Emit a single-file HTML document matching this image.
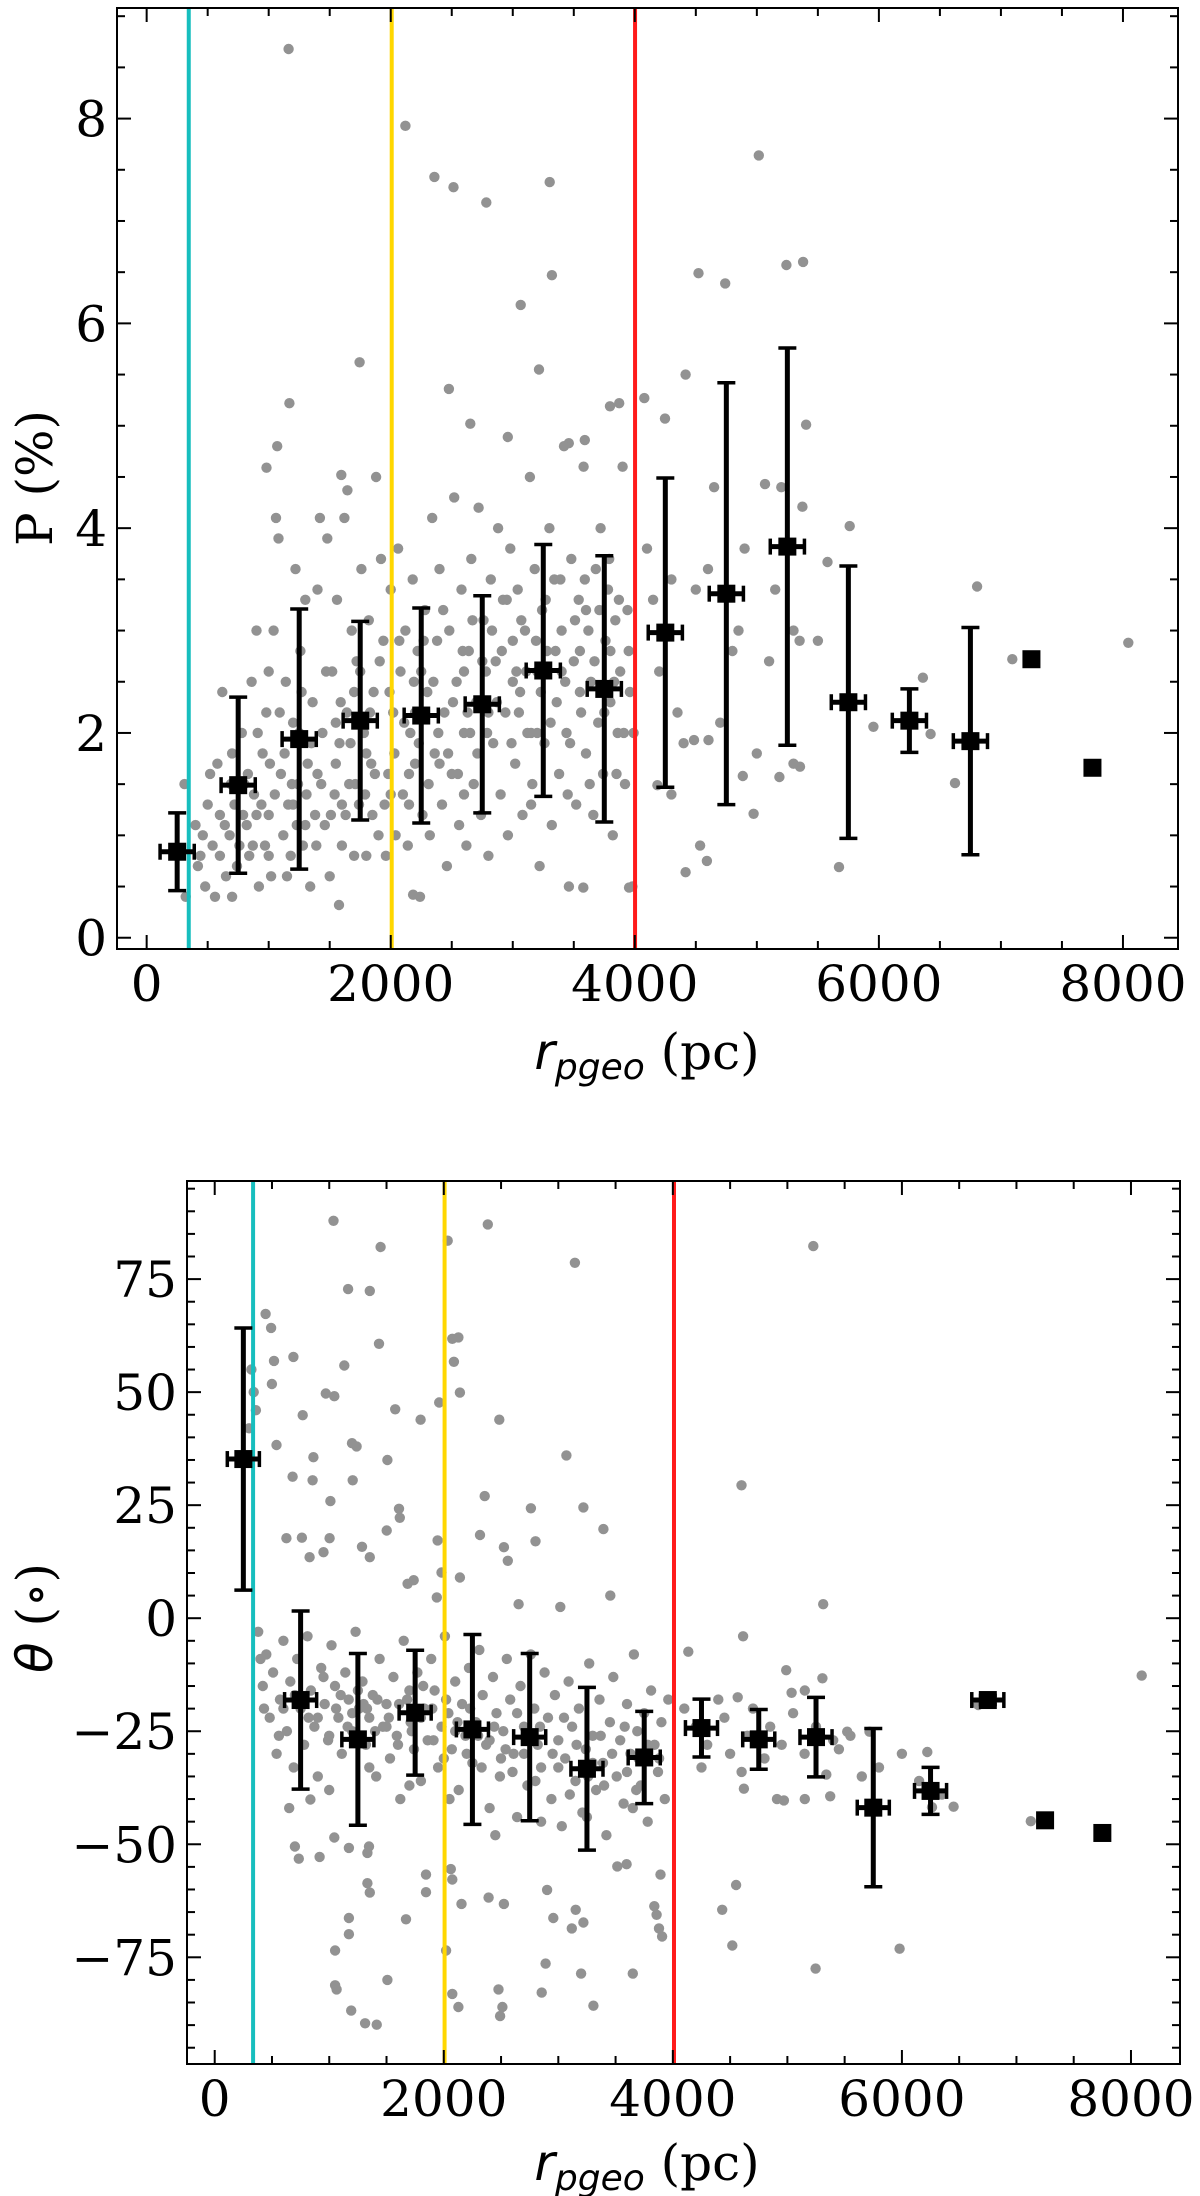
<!DOCTYPE html>
<html><head><meta charset="utf-8"><style>
html,body{margin:0;padding:0;background:#fff}
svg{display:block}
text{font-family:"DejaVu Serif","Liberation Serif",serif;fill:#000}
</style></head><body>
<svg id="fig" width="1200" height="2196" viewBox="0 0 1200 2196" xmlns="http://www.w3.org/2000/svg"></svg>
<script>
// ---------- data ----------
const binCenters = [250,750,1250,1750,2250,2750,3250,3750,4250,4750,5250,5750,6250,6750,7250,7750];
const binXerr = [140,140,140,140,140,140,140,140,140,140,140,140,140,140,0,0];
const pMean = [0.84,1.49,1.94,2.12,2.17,2.28,2.61,2.43,2.98,3.36,3.82,2.30,2.12,1.92,2.72,1.66];
const pErr  = [0.38,0.86,1.27,0.97,1.05,1.06,1.23,1.30,1.51,2.06,1.94,1.33,0.31,1.11,0,0];
const thMean = [35.2,-18.1,-26.8,-20.9,-24.6,-26.3,-33.3,-30.8,-24.3,-26.8,-26.3,-41.9,-38.2,-18.1,-44.7,-47.5];
const thErr  = [29,19.7,19,13.8,21,18.5,18,10.2,6.4,6.6,8.8,17.5,5.2,1,0,0];
const pTicks = [0,2,4,6,8];
const thTicks = [75,50,25,0,-25,-50,-75];
const xTicks = [0,2000,4000,6000,8000];
const topLines = [345,2008,4002];
const botLines = [335,2007,4010];
const lineColors = ["#17bebe","#ffd700","#ff1a1a"];
const pStars = [[1163,8.68],[2120,7.93],[2358,7.43],[2514,7.33],[2783,7.18],[3303,7.38],[3321,6.47],[3065,6.18],[3215,5.55],[5016,7.64],[4522,6.49],[4741,6.39],[5242,6.57],[5379,6.6],[1745,5.62],[1170,5.22],[2477,5.36],[2652,5.02],[1070,4.8],[982,4.59],[1595,4.52],[1645,4.37],[2959,4.89],[3459,4.83],[3590,4.86],[3797,5.19],[3872,5.22],[4078,5.27],[4247,5.07],[4416,5.5],[5067,4.43],[5404,5.01],[5373,4.21],[5761,4.02],[5579,3.67],[5955,2.06],[6424,1.99],[8044,2.88],[7093,2.72],[6805,3.43],[6361,2.54],[6624,1.51],[5673,0.69],[4416,0.64],[3578,0.49],[3953,0.49],[2183,0.42],[1576,0.32],[4535,0.9],[4591,0.75],[4973,1.21],[4885,1.58],[5354,1.67],[5185,1.57],[4485,1.93],[4604,1.93],[4185,1.49],
[4100,3.8],[4200,2.6],[4300,3.5],[4350,2.2],[4500,3.4],[4650,4.4],[4700,2.1],[4850,3.0],[4900,3.8],[5000,1.8],[5150,3.4],[5300,3.0],[5350,2.9],[5100,2.7],[5500,2.9],[5300,1.7],[4400,1.9],[4300,1.4],[4600,3.6],[4150,3.3],[5200,4.4],[4800,2.8],
[310,1.5],[320,0.4],[420,0.7],[460,1.0],[480,0.5],[520,1.6],[560,0.4],[600,1.2],[620,2.4],[650,0.6],[680,1.0],[700,0.4],[720,1.3],[760,0.9],[780,2.0],[820,1.1],[840,0.8],[860,2.5],[880,1.4],[900,3.0],[920,0.5],[950,1.8],[980,2.2],[1000,1.2],[1020,0.6],[1040,3.0],[1060,4.1],[1080,3.9],[1100,1.6],[1120,1.0],[1140,2.5],[1160,1.3],[1180,0.8],[1200,2.1],[1220,3.6],[1240,1.5],[1260,2.8],[1280,0.9],[1300,3.3],[1320,1.7],[1340,0.5],[1360,2.3],[1380,1.2],[1400,3.4],[1420,4.1],[1440,2.0],[1460,1.1],[1480,3.9],[1500,0.6],[1520,2.6],[1540,1.4],[1560,3.3],[1580,1.9],[1600,0.9],[1620,4.1],[1640,2.2],[1660,1.5],[1680,3.0],[1700,0.8],[1720,2.7],[1740,1.3],[1760,3.6],[1780,2.0],[1800,0.8],[1820,3.1],[1840,1.7],[1860,2.4],[1880,4.5],[1900,1.0],[1920,3.7],[1940,2.9],[1960,0.8],[1980,1.6],[2000,3.4],[2020,2.2],[2040,1.0],[2060,3.8],[2080,2.6],[2100,1.4],[2120,3.0],[2140,0.9],[2160,2.0],[2180,3.5],[2200,1.7],[2220,2.8],[2240,0.4],[2260,1.2],[2280,3.2],[2300,2.4],[2320,1.0],[2340,4.1],[2360,1.8],[2380,2.9],[2400,3.6],[2420,1.3],[2440,2.2],[2460,0.7],[2480,3.0],[2500,1.6],[2520,4.3],[2540,2.5],[2560,1.1],[2580,3.4],[2600,2.0],[2620,0.9],[2640,2.8],[2660,3.7],[2680,1.5],[2700,2.3],[2720,4.2],[2740,1.2],[2760,3.1],[2780,2.6],[2800,0.8],[2820,3.5],[2840,1.9],[2860,2.7],[2880,4.0],[2900,1.4],[2920,3.3],[2940,2.2],[2960,1.0],[2980,3.8],[3000,2.9],[3020,1.7],[3040,3.4],[3060,2.4],[3080,1.2],[3100,3.0],[3120,2.0],[3140,4.5],[3160,1.5],[3180,3.6],[3200,2.6],[3220,0.7],[3240,3.2],[3260,1.9],[3280,2.8],[3300,4.0],[3320,1.1],[3340,3.5],[3360,2.3],[3380,1.6],[3400,3.0],[3420,4.8],[3440,2.0],[3460,0.5],[3480,3.7],[3500,2.7],[3520,1.3],[3540,3.3],[3560,2.2],[3580,4.6],[3600,1.8],[3620,3.0],[3640,2.5],[3660,1.2],[3680,3.6],[3700,2.1],[3720,4.0],[3740,1.6],[3760,2.9],[3780,3.4],[3800,2.3],[3820,1.0],[3840,3.1],[3860,2.0],[3880,2.6],[3900,4.6],[3920,1.5],[3940,3.2],[3960,2.4],[3980,0.5],[3990,2.0],
[700,1.8],[1000,2.6],[1300,1.1],[1550,2.1],[1850,1.2],[2250,2.6],[2650,2.0],[3050,2.2],[3450,1.4],[3850,1.6],[900,1.2],[1250,2.0],[1700,2.4],[2150,1.6],[2600,1.4],[3150,1.3],[3550,2.8],
[400,1.1],[440,0.8],[500,1.3],[540,0.9],[580,1.7],[640,1.1],[690,1.5],[740,0.7],[790,1.2],[830,1.6],[870,0.9],[910,2.0],[940,1.3],[970,0.9],[1010,1.7],[1050,1.4],[1090,2.2],[1130,1.8],[1150,0.6],[1190,1.5],[1230,1.1],[1270,2.4],[1310,1.4],[1350,1.9],[1390,0.9],[1430,1.5],[1470,2.6],[1510,1.2],[1550,1.7],[1590,2.3],[1630,1.2],[1670,1.9],[1710,1.5],[1750,2.6],[1790,1.4],[1830,2.2],[1870,1.6],[1910,2.7],[1950,1.3],[1990,2.4],[2030,1.8],[2070,2.9],[2110,2.1],[2150,1.3],[2190,2.5],[2230,1.9],[2270,2.9],[2310,1.5],[2350,2.5],[2390,2.0],[2430,3.2],[2470,1.8],[2510,2.3],[2550,1.6],[2590,2.8],[2630,2.2],[2670,3.1],[2710,1.8],[2750,2.7],[2790,2.0],[2830,3.0],[2870,2.3],[2910,2.8],[2950,3.3],[2990,1.9],[3030,2.6],[3070,3.1],[3110,2.6],[3150,2.0],[3190,2.9],[3230,2.4],[3270,3.3],[3310,2.1],[3350,2.8],[3390,3.5],[3430,2.5],[3470,1.9],[3510,3.1],[3550,2.4],[3590,3.5],[3630,1.5],[3670,2.7],[3710,3.2],[3750,2.2],[3790,3.7],[3830,2.5],[3870,3.3],[3910,2.0],[3950,2.8],
[600,0.8],[800,1.5],[1000,0.8],[1200,1.3],[1400,1.6],[1600,1.3],[1800,1.8],[2000,1.4],[2200,2.2],[2400,1.7],[2600,2.6],[2800,2.2],[3000,2.5],[3200,2.0],[3400,2.6],[3600,3.2],[3800,2.8]];
const thStars = [[1037,87.9],[1448,82.1],[2034,83.5],[2384,87.1],[3145,78.6],[5226,82.3],[1165,72.8],[1354,72.4],[1434,60.7],[2074,61.8],[2128,62.1],[444,67.3],[492,64.2],[518,56.9],[687,57.8],[1131,55.9],[499,51.8],[970,49.7],[1044,49.1],[1576,46.2],[1798,43.9],[2485,43.9],[1960,47.7],[2141,49.9],[2088,56.7],[768,44.9],[539,38.3],[1199,38.7],[1239,38.0],[862,35.6],[1508,35.0],[3071,36.0],[855,30.5],[680,31.3],[1205,30.5],[1010,25.9],[1609,24.2],[1616,22.2],[2357,27.0],[2761,24.3],[3219,24.5],[4599,29.4],[3394,19.7],[626,17.7],[761,17.8],[1003,17.7],[1502,19.4],[1286,15.8],[1354,13.5],[2316,18.4],[2801,17.0],[2525,15.7],[2559,12.7],[1946,17.2],[828,13.5],[950,14.6],[1684,7.6],[1737,8.4],[1980,10.1],[2141,9.0],[1939,4.6],[2653,3.1],[3017,2.5],[3454,5.0],[4613,-4.0],[5313,3.1],[4135,-7.4],[300,42],[320,55],[340,50],[360,46],
[835,-40.1],[700,-50.5],[734,-53.2],[916,-52.8],[1044,-48.5],[1172,-50.8],[1347,-50.5],[1333,-51.9],[1845,-56.7],[1845,-60.6],[1670,-66.6],[1333,-58.6],[1354,-60.7],[1172,-66.3],[1172,-69.9],[1051,-73.5],[1051,-81.2],[1064,-82.1],[1192,-86.8],[1313,-89.6],[1414,-89.9],[1508,-80],[2061,-55.5],[2074,-57.8],[2155,-63.2],[2020,-73.5],[2074,-83.1],[2128,-86.0],[2478,-82.1],[2512,-86.0],[2492,-88.0],[2391,-61.8],[2525,-63.2],[2902,-60.1],[2956,-66.3],[2889,-76.4],[2855,-82.8],[3199,-78.6],[3306,-85.7],[3152,-64.5],[3219,-67.3],[3118,-68.6],[3650,-78.6],[3515,-54.9],[3596,-54.4],[3892,-56.7],[3838,-63.7],[3858,-65.6],[3879,-68.6],[3906,-70.4],[4431,-64.5],[4552,-59.0],[4519,-72.4],[5246,-77.5],[5980,-73.1],[4970,-40.3],[5152,-40.0],[5340,-34.6],[5374,-39.4],[4909,-40.0],[4620,-37.7],[6263,-41.8],[6451,-41.7],[6222,-29.6],[7125,-44.9],[8094,-12.7],[6667,-19.2],[5522,-25.1],[5717,-25.1],[4990,-11.5],[5152,-16.0],[5306,-13.3],[5037,-16.5],[4566,-17.5],[4397,-18.0],
[4100,-20],[4200,-24],[4300,-28],[4450,-22],[4500,-30],[4650,-26],[4700,-20],[4800,-31],[4850,-24],[4950,-28],[5050,-21],[5150,-30],[5250,-24],[5400,-27],[5450,-29],[5550,-26],[5650,-35],[5800,-33],[6000,-30],[6150,-36],[6350,-39],[4250,-33],[4600,-34],
[380,-3],[400,-9],[420,-15],[450,-8],[480,-22],[510,-12],[540,-30],[570,-18],[600,-5],[630,-25],[660,-14],[690,-33],[720,-9],[750,-20],[780,-28],[810,-4],[840,-16],[870,-24],[900,-35],[930,-11],[960,-19],[990,-27],[1020,-6],[1050,-15],[1080,-22],[1110,-30],[1140,-12],[1170,-18],[1200,-25],[1230,-3],[1260,-20],[1290,-14],[1320,-28],[1350,-22],[1380,-17],[1410,-35],[1440,-9],[1470,-24],[1500,-19],[1530,-31],[1560,-13],[1590,-26],[1620,-40],[1650,-5],[1680,-18],[1710,-23],[1740,-29],[1770,-12],[1800,-36],[1830,-20],[1860,-27],[1890,-9],[1920,-16],[1950,-33],[1980,-24],[2010,-4],[2040,-21],[2070,-29],[2100,-14],[2130,-38],[2160,-19],[2190,-26],[2220,-11],[2250,-32],[2280,-23],[2310,-7],[2340,-17],[2370,-28],[2400,-42],[2430,-13],[2460,-21],[2490,-35],[2520,-25],[2550,-9],[2580,-18],[2610,-30],[2640,-44],[2670,-15],[2700,-24],[2730,-37],[2760,-8],[2790,-20],[2820,-28],[2850,-33],[2880,-12],[2910,-22],[2940,-40],[2970,-17],[3000,-27],[3030,-46],[3060,-31],[3090,-14],[3120,-24],[3150,-36],[3180,-20],[3210,-43],[3240,-29],[3270,-10],[3300,-26],[3330,-38],[3360,-18],[3390,-32],[3420,-48],[3450,-23],[3480,-13],[3510,-35],[3540,-27],[3570,-41],[3600,-19],[3630,-30],[3660,-8],[3690,-25],[3720,-37],[3750,-21],[3780,-45],[3810,-16],[3840,-28],[3870,-34],[3900,-23],[3930,-40],[3960,-18],
[600,-20],[900,-22],[1200,-21],[1500,-24],[1800,-22],[2100,-25],[2400,-27],[2700,-30],[3000,-33],[3300,-32],[3600,-34],[1000,-26],[1300,-19],[1600,-28],[1900,-20],[2200,-30],[2500,-31],[2800,-36],[3100,-39],[3400,-37],[3700,-31],[1100,-17],[1400,-25],[1700,-16],[2000,-31],[2300,-26],[2600,-34],
[430,-20],[560,-26],[700,-17],[820,-22],[950,-13],[1060,-20],[1160,-24],[1250,-16],[1330,-20],[1420,-18],[1520,-22],[1610,-19],[1720,-25],[1820,-15],[1910,-27],[2020,-18],[2120,-23],[2230,-20],[2330,-33],[2440,-24],[2540,-29],[2640,-21],[2740,-27],[2840,-24],[2950,-30],[3050,-22],[3160,-28],[3260,-35],[3370,-26],[3470,-30],[3580,-24],[3680,-38],[3780,-28],[3880,-31],
[650,-42],[1000,-38],[1350,-33],[1700,-37],[2050,-40],[2450,-48],[2850,-45],[3250,-44],[3650,-42]];

// ---------- helpers ----------
const NS = "http://www.w3.org/2000/svg";
const svg = document.getElementById('fig');
function mk(tag, attrs, parent){const e=document.createElementNS(NS,tag);for(const k in attrs)e.setAttribute(k,attrs[k]);(parent||svg).appendChild(e);return e;}

function panel(cfg){
  const g = mk('g',{});
  
  
  const X = v => cfg.x0 + (v - cfg.xmin) / (cfg.xmax - cfg.xmin) * (cfg.x1 - cfg.x0);
  const Y = v => cfg.y1 - (v - cfg.ymin) / (cfg.ymax - cfg.ymin) * (cfg.y1 - cfg.y0);
  const clip = 'clip-' + cfg.name;
  const cp = mk('clipPath',{id:clip},g);
  mk('rect',{x:cfg.x0,y:cfg.y0,width:cfg.x1-cfg.x0,height:cfg.y1-cfg.y0},cp);
  const plot = mk('g',{'clip-path':'url(#'+clip+')'},g);
  const sg = mk('g',{},plot);
  
  
  cfg.stars.forEach(p=>{
    const c = mk('circle',{cx:X(p[0]).toFixed(1),cy:Y(p[1]).toFixed(1),r:5.2,fill:'#929292'},sg);
    
    
  });
  cfg.lines.forEach((v,i)=>{
    const l = mk('line',{x1:X(v),x2:X(v),y1:cfg.y0,y2:cfg.y1,stroke:lineColors[i],'stroke-width':4},plot);
    
    
  });
  binCenters.forEach((bx,i)=>{
    const bg = mk('g',{},plot);
    
    
    const cx = X(bx), cy = Y(cfg.mean[i]);
    const e = cfg.err[i], xe = binXerr[i];
    if (e > 0) {
      const yt = Y(cfg.mean[i]+e), yb = Y(cfg.mean[i]-e);
      mk('line',{x1:cx,x2:cx,y1:yt,y2:yb,stroke:'#000','stroke-width':5},bg);
      mk('line',{x1:cx-9,x2:cx+9,y1:yt,y2:yt,stroke:'#000','stroke-width':3.5},bg);
      mk('line',{x1:cx-9,x2:cx+9,y1:yb,y2:yb,stroke:'#000','stroke-width':3.5},bg);
    }
    if (xe > 0) {
      const xl = X(bx-xe), xr = X(bx+xe);
      mk('line',{x1:xl,x2:xr,y1:cy,y2:cy,stroke:'#000','stroke-width':5},bg);
      mk('line',{x1:xl,x2:xl,y1:cy-8,y2:cy+8,stroke:'#000','stroke-width':3.5},bg);
      mk('line',{x1:xr,x2:xr,y1:cy-8,y2:cy+8,stroke:'#000','stroke-width':3.5},bg);
    }
    mk('rect',{x:cx-9,y:cy-9,width:18,height:18,fill:'#000'},bg);
  });
  const fr = mk('rect',{x:cfg.x0,y:cfg.y0,width:cfg.x1-cfg.x0,height:cfg.y1-cfg.y0,fill:'none',stroke:'#000','stroke-width':2},g);
  
  
  const tg = mk('g',{stroke:'#000','stroke-width':2},g);
  for (let v = 0; v <= cfg.xmax; v += 500) {
    const major = v % 2000 === 0, L = major ? 14 : 8, x = X(v);
    mk('line',{x1:x,x2:x,y1:cfg.y1,y2:cfg.y1-L},tg);
    mk('line',{x1:x,x2:x,y1:cfg.y0,y2:cfg.y0+L},tg);
  }
  const ys = Math.ceil(cfg.ymin/cfg.yminor)*cfg.yminor;
  for (let v = ys; v <= cfg.ymax; v += cfg.yminor) {
    const vv = Math.round(v*1000)/1000;
    const major = Math.abs(vv/cfg.ymajor - Math.round(vv/cfg.ymajor)) < 1e-6;
    const L = major ? 14 : 8, y = Y(vv);
    mk('line',{x1:cfg.x0,x2:cfg.x0+L,y1:y,y2:y},tg);
    mk('line',{x1:cfg.x1,x2:cfg.x1-L,y1:y,y2:y},tg);
  }
  xTicks.forEach(v=>{
    const t = mk('text',{x:X(v),y:cfg.y1+52,'font-size':50,'text-anchor':'middle'},g);
    t.textContent = String(v);
    
    
  });
  cfg.yticks.forEach(v=>{
    const t = mk('text',{x:cfg.x0-10,y:Y(v)+18,'font-size':50,'text-anchor':'end'},g);
    t.textContent = v < 0 ? '\u2212' + Math.abs(v) : String(v);
    
    
  });
  const xl = mk('text',{x:647,y:cfg.y1+cfg.xlabelDy,'font-size':50,'text-anchor':'middle'},g);
  
  
  const r = mk('tspan',{'font-family':'DejaVu Sans, Liberation Sans, sans-serif','font-style':'italic'},xl); r.textContent='r';
  const sub = mk('tspan',{'font-family':'DejaVu Sans, Liberation Sans, sans-serif','font-style':'italic','font-size':36,dy:10},xl); sub.textContent='pgeo';
  const pc = mk('tspan',{dy:-10},xl); pc.textContent=' (pc)';
  const yl = mk('text',{x:0,y:0,'font-size':50,'text-anchor':'middle',transform:'translate(52,'+cfg.ylabelY+') rotate(-90)'},g);
  
  
  if (cfg.ylabel === 'P') { yl.textContent = 'P (%)'; }
  else {
    const th = mk('tspan',{'font-family':'DejaVu Sans, Liberation Sans, sans-serif','font-style':'italic'},yl); th.textContent='\u03b8';
    const rest = mk('tspan',{},yl); rest.textContent=' (\u2218)';
  }
}

panel({name:'polarization-panel',x0:117,x1:1178,y0:8,y1:949,xmin:-243,xmax:8451,ymin:-0.11,ymax:9.08,
  yminor:0.5,ymajor:2,yticks:pTicks,stars:pStars,mean:pMean,err:pErr,lines:topLines,ylabel:'P',ylabelY:478,xlabelDy:120});
panel({name:'angle-panel',x0:187,x1:1180,y0:1181,y1:2064,xmin:-242,xmax:8428,ymin:-98.6,ymax:96.7,
  yminor:5,ymajor:25,yticks:thTicks,stars:thStars,mean:thMean,err:thErr,lines:botLines,ylabel:'T',ylabelY:1618,xlabelDy:116});
</script>
</body></html>
